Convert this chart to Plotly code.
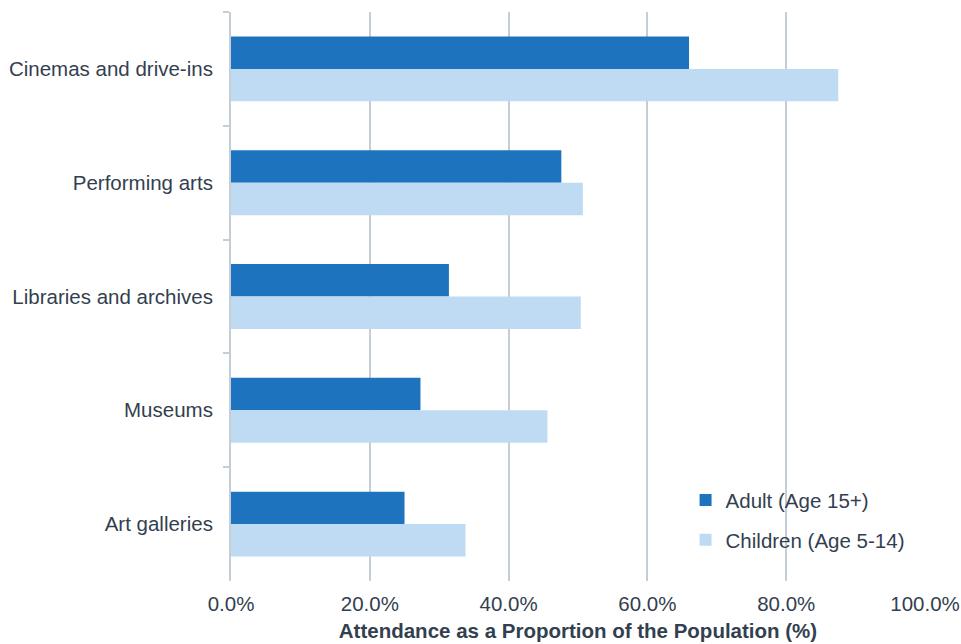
import plotly.graph_objects as go

# Cultural venue attendance, share of population (%)
venues = ["Cinemas and drive-ins", "Performing arts", "Libraries and archives",
          "Museums", "Art galleries"]
adult_pct = [66.0, 47.6, 31.4, 27.3, 25.0]
children_pct = [87.5, 50.7, 50.4, 45.6, 33.8]

x_ticks = [0, 20, 40, 60, 80, 100]
x_tick_text = [f"{v:.1f}%" for v in x_ticks]

TEXT = "#333f4f"
GRID = "#c5ced7"
FONT = "Liberation Sans, Arial, sans-serif"
FS = 20.5

fig = go.Figure()
fig.add_trace(go.Bar(
    y=venues, x=adult_pct, orientation="h", name="Adult (Age 15+)",
    marker=dict(color="#1e73be", line=dict(width=0)), legendgroup="a",
))
fig.add_trace(go.Bar(
    y=venues, x=children_pct, orientation="h", name="Children (Age 5-14)",
    marker=dict(color="#bfdbf3", line=dict(width=0)), legendgroup="c",
))

fig.update_layout(
    width=961, height=644,
    margin=dict(l=231, r=36, t=12, b=63),
    paper_bgcolor="white", plot_bgcolor="white",
    barmode="group", bargap=0.43, bargroupgap=0,
    font=dict(family=FONT, size=FS, color=TEXT),
    showlegend=True,
    legend=dict(
        x=0.655, y=0.177, xanchor="left", yanchor="top",
        bgcolor="rgba(0,0,0,0)", font=dict(size=FS, color=TEXT),
        tracegroupgap=10, traceorder="grouped",
    ),
    xaxis=dict(
        range=[0, 100], tickvals=x_ticks, ticktext=x_tick_text,
        showgrid=True, gridcolor=GRID, gridwidth=2,
        zeroline=False, showline=False, ticks="",
        ticklabelstandoff=8,
        tickfont=dict(size=FS, color=TEXT),
        title=dict(text="<b>Attendance as a Proportion of the Population (%)</b>",
                   font=dict(size=FS, color=TEXT), standoff=10),
        automargin=False,
    ),
    yaxis=dict(
        autorange="reversed", showgrid=False, zeroline=False,
        showline=True, linecolor=GRID, linewidth=2,
        ticks="outside", tickson="boundaries", ticklen=6,
        tickcolor=GRID, tickwidth=2,
        ticklabelstandoff=12,
        tickfont=dict(size=FS, color=TEXT),
        automargin=False,
    ),
)

fig.write_html("out.html")
